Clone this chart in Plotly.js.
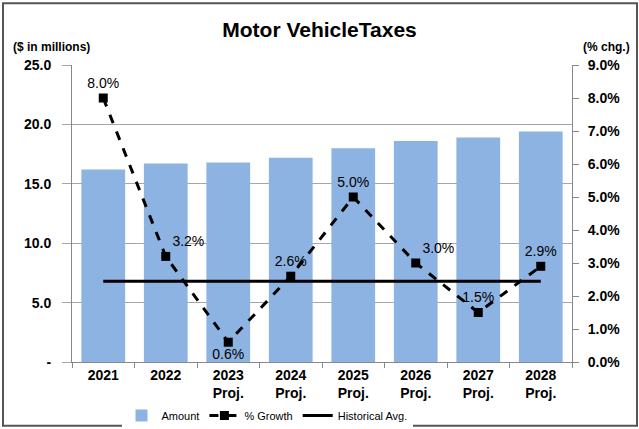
<!DOCTYPE html>
<html><head><meta charset="utf-8">
<script src="https://cdn.plot.ly/plotly-3.0.1.min.js"></script>
<style>body{margin:0;padding:0;background:#fff}#chart{width:639px;height:429px}</style>
</head><body><div id="chart"></div>
<script>
const categories = ["2021","2022","2023<br>Proj.","2024<br>Proj.","2025<br>Proj.","2026<br>Proj.","2027<br>Proj.","2028<br>Proj."];
const amount = [16.2, 16.7, 16.8, 17.2, 18.0, 18.6, 18.9, 19.4];
const growth = [8.0, 3.2, 0.6, 2.6, 5.0, 3.0, 1.5, 2.9];
const growthLabels = ["8.0%","3.2%","0.6%","2.6%","5.0%","3.0%","1.5%","2.9%"];
const labelPos = ["top center","top right","bottom center","top center","top center","top right","top center","top center"];
const histAvg = [2.45, 2.45, 2.45, 2.45, 2.45, 2.45, 2.45, 2.45];
const leftTicks = [0, 5, 10, 15, 20, 25];
const leftTickText = ["-", "5.0", "10.0", "15.0", "20.0", "25.0"];
const rightTicks = [0,1,2,3,4,5,6,7,8,9];
const rightTickText = ["0.0%","1.0%","2.0%","3.0%","4.0%","5.0%","6.0%","7.0%","8.0%","9.0%"];

const F = "Liberation Sans, Arial, sans-serif";
const traces = [
  {type:"bar", name:"Amount", x:categories, y:amount, marker:{color:"#8DB3E2"}, width:0.7, yaxis:"y"},
  {type:"scatter", mode:"lines+markers+text", name:"% Growth", x:categories, y:growth, yaxis:"y2",
   line:{color:"#000", width:3, dash:"dash"}, marker:{symbol:"square", size:9, color:"#000"},
   text:growthLabels, textposition:labelPos, textfont:{family:F, size:14, color:"#000"}, cliponaxis:false},
  {type:"scatter", mode:"lines", name:"Historical Avg.", x:categories, y:histAvg, yaxis:"y2",
   line:{color:"#000", width:3}}
];
const layout = {
  width:639, height:429,
  margin:{l:72, r:67, t:65, b:67, autoexpand:false},
  paper_bgcolor:"#fff", plot_bgcolor:"#fff",
  font:{family:F, size:12, color:"#000"},
  title:{text:"<b>Motor VehicleTaxes</b>", font:{family:F, size:21, color:"#000"}, x:0.5, xanchor:"center", y:0.93, yanchor:"middle"},
  bargap:0.3,
  xaxis:{type:"category", showline:true, linecolor:"#888", linewidth:1, ticks:"outside", tickson:"boundaries", ticklen:5, tickcolor:"#888",
         tickfont:{family:F, size:14, color:"#000", weight:"bold"}, showgrid:false},
  yaxis:{range:[0,25], tickvals:leftTicks, ticktext:leftTickText, showgrid:true, gridcolor:"#a6a6a6", gridwidth:1,
         showline:true, linecolor:"#888", ticks:"outside", ticklen:9, tickcolor:"#a6a6a6", ticklabelstandoff:8,
         tickfont:{family:F, size:14, color:"#000", weight:"bold"}, zeroline:false},
  yaxis2:{range:[0,9], overlaying:"y", side:"right", tickvals:rightTicks, ticktext:rightTickText, showgrid:false,
          showline:true, linecolor:"#888", ticks:"outside", ticklen:6, tickcolor:"#888", ticklabelstandoff:6,
          tickfont:{family:F, size:14, color:"#000", weight:"bold"}, zeroline:false},
  showlegend:true,
  legend:{orientation:"h", x:0.39, xanchor:"center", y:-0.18, yanchor:"middle", font:{family:F, size:11, color:"#000"}, traceorder:"normal", itemwidth:30, tracegroupgap:0},
  annotations:[
    {text:"<b>($ in millions)</b>", xref:"paper", yref:"paper", x:-0.122, y:1.061, xanchor:"left", yanchor:"middle", showarrow:false, font:{family:F, size:12}},
    {text:"<b>(% chg.)</b>", xref:"paper", yref:"paper", x:1.12, y:1.061, xanchor:"right", yanchor:"middle", showarrow:false, font:{family:F, size:12}}
  ],
  shapes:[
    {type:"rect", xref:"paper", yref:"paper", x0:-0.138, x1:1.13, y0:-0.215, y1:1.208, line:{color:"#555", width:2}}
  ]
};
Plotly.newPlot("chart", traces, layout, {displayModeBar:false, staticPlot:true});
</script></body></html>
